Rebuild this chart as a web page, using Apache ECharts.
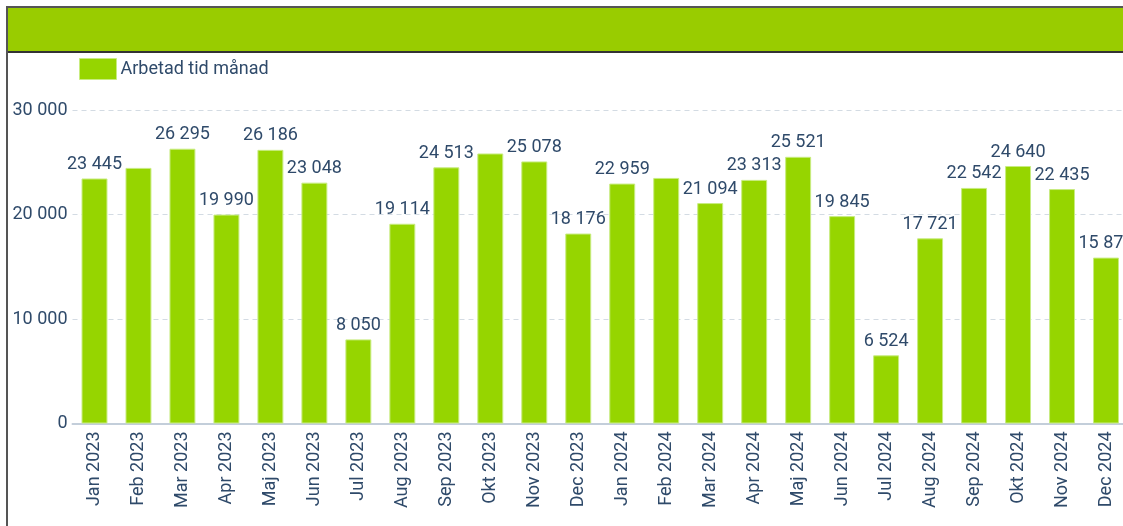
<!DOCTYPE html>
<html>
<head>
<meta charset="utf-8">
<script src="https://cdn.jsdelivr.net/npm/echarts@6/dist/echarts.min.js"></script>
<style>
  html, body { margin: 0; padding: 0; background: #fff; overflow: hidden; }
  #frame {
    position: absolute; left: 6px; top: 6px; width: 1200px; height: 600px;
    border-left: 2px solid #555; border-top: 2px solid #555;
  }
  #header {
    height: 43px; background: #99cc00; border-bottom: 2px solid #333;
  }
  #chart { position: absolute; left: 0; top: 0; width: 1130px; height: 526px; }
</style>
</head>
<body>
<div id="frame"><div id="header"></div></div>
<div id="chart"></div>
<script>
const months = [
  'Jan 2023', 'Feb 2023', 'Mar 2023', 'Apr 2023', 'Maj 2023', 'Jun 2023',
  'Jul 2023', 'Aug 2023', 'Sep 2023', 'Okt 2023', 'Nov 2023', 'Dec 2023',
  'Jan 2024', 'Feb 2024', 'Mar 2024', 'Apr 2024', 'Maj 2024', 'Jun 2024',
  'Jul 2024', 'Aug 2024', 'Sep 2024', 'Okt 2024', 'Nov 2024', 'Dec 2024'
];
const workedTime = [
  23445, 24460, 26295, 19990, 26186, 23048,
  8050, 19114, 24513, 25840, 25078, 18176,
  22959, 23500, 21094, 23313, 25521, 19845,
  6524, 17721, 22542, 24640, 22435, 15875
];
// labels that the original chart hides (overlapping neighbours)
const hiddenLabels = ['Feb 2023', 'Okt 2023', 'Feb 2024'];

const textColor = '#2f4a6a';
const fmt = v => String(Math.round(v)).replace(/\B(?=(\d{3})+(?!\d))/g, ' ');

const chart = echarts.init(document.getElementById('chart'));
chart.setOption({
  animation: false,
  textStyle: { fontFamily: 'Roboto' },
  legend: {
    left: 74, top: 53,
    icon: 'rect',
    itemWidth: 37, itemHeight: 21, itemGap: 10,
    itemStyle: { borderColor: '#c8ec80', borderWidth: 1 },
    textStyle: { color: textColor, fontSize: 18, fontFamily: 'Roboto', padding: [0, 0, 0, -1] },
    data: ['Arbetad tid månad']
  },
  grid: { left: 72.5, right: 1130 - 1128, top: 110, bottom: 526 - 423.5, containLabel: false },
  xAxis: {
    type: 'category',
    data: months,
    axisTick: { show: false },
    axisLine: { lineStyle: { color: '#c3ceda', width: 2 } },
    axisLabel: { rotate: 90, color: textColor, fontSize: 18, margin: 8, interval: 0 }
  },
  yAxis: {
    type: 'value',
    min: 0, max: 30000, interval: 10000,
    axisLabel: { color: textColor, fontSize: 18, margin: 5, formatter: fmt },
    splitLine: { lineStyle: { color: '#d3dbe3', type: [5, 4], width: 1 } }
  },
  series: [{
    name: 'Arbetad tid månad',
    type: 'bar',
    barWidth: '59%',
    itemStyle: { color: '#96d500', borderColor: '#c8ec80', borderWidth: 1 },
    label: {
      show: true, position: 'top', distance: 5,
      color: textColor, fontSize: 18, formatter: p => fmt(p.value)
    },
    data: workedTime.map((v, i) => hiddenLabels.includes(months[i])
      ? { value: v, label: { show: false } }
      : v)
  }]
});
</script>
</body>
</html>
